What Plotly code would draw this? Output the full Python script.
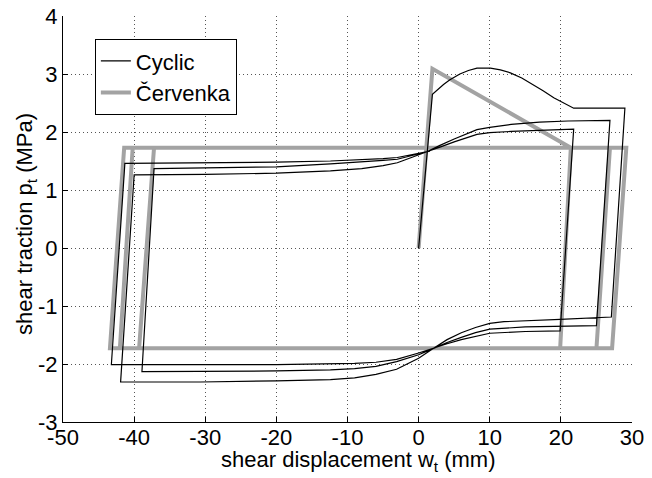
import plotly.graph_objects as go

# ---- data ----
cyclic_x = [0, 1.94,
            3.5, 4.4, 5.8, 7.0, 8.2, 10.1, 11.5, 12.9, 14.5, 16.1, 17.5, 19.0, 20.5, 21.8, 29.0,
            27.1,
            19.9, 15, 12, 10, 8, 6, 4, 2.1, 0, -3.1, -6, -9, -12.4, -20, -30.7, -41.9,
            -40.0,
            -30, -20, -12.4, -8, -5, -3, -1, 1.15, 3, 5, 8.2, 10, 13, 17, 21, 26.9,
            25.0,
            19.9, 15, 10, 8, 6, 4, 2.1, 0, -3.1, -6, -9, -12.4, -20, -30.7, -38.9,
            -37.2,
            -30, -20, -12.4, -8, -5, -3, -1, 1.15, 3, 5, 8.2, 10, 13, 17, 21.8,
            19.9,
            15, 10, 8, 6, 4, 2.1, 0, -3.1, -6, -9, -12.4, -20, -30.7, -43.2,
            -41.3,
            -30, -20, -12.4, -8, -5, -3, -1, 1.15, 1.6]
cyclic_y = [0, 2.65,
            2.82, 2.90, 3.00, 3.06, 3.10, 3.10, 3.07, 3.02, 2.93, 2.82, 2.71, 2.59, 2.49, 2.41, 2.41,
            -1.19,
            -1.23, -1.25, -1.27, -1.30, -1.37, -1.46, -1.58, -1.73, -1.90, -2.09, -2.18, -2.24, -2.27, -2.29, -2.31, -2.31,
            1.26,
            1.27, 1.29, 1.33, 1.37, 1.42, 1.47, 1.56, 1.66, 1.77, 1.88, 2.04, 2.08, 2.13, 2.17, 2.19, 2.20,
            -1.34,
            -1.35, -1.36, -1.40, -1.46, -1.54, -1.63, -1.73, -1.84, -1.96, -2.04, -2.08, -2.10, -2.12, -2.13, -2.13,
            1.37,
            1.38, 1.40, 1.45, 1.48, 1.51, 1.53, 1.59, 1.66, 1.74, 1.83, 1.96, 1.99, 2.01, 2.03, 2.05,
            -1.43,
            -1.44, -1.47, -1.52, -1.58, -1.65, -1.73, -1.81, -1.92, -1.97, -1.99, -2.00, -2.01, -2.01, -2.01,
            1.46,
            1.47, 1.48, 1.50, 1.52, 1.54, 1.56, 1.61, 1.66, 1.67]

cervenka_x = [0, 1.94, 21.4, 29.2, 27.2, -43.4, -41.4, 26.9, 25.0, -42.0, -40.2,
              21.4, 19.9, -39.3, -37.2, 1.5]
cervenka_y = [0, 3.09, 1.73, 1.73, -1.73, -1.73, 1.73, 1.73, -1.73, -1.73, 1.73,
              1.73, -1.73, -1.73, 1.73, 1.73]

x_ticks = [-50, -40, -30, -20, -10, 0, 10, 20, 30]
x_ticklabels = ["-50", "-40", "-30", "-20", "-10", "0", "10", "20", "30"]
y_ticks = [-3, -2, -1, 0, 1, 2, 3, 4]
y_ticklabels = ["-3", "-2", "-1", "0", "1", "2", "3", "4"]

x_title = "shear displacement w<sub>t</sub> (mm)"
y_title = "shear traction p<sub>t</sub> (MPa)"

FONT = "Liberation Sans, Arial, Helvetica, sans-serif"

fig = go.Figure()
fig.add_trace(go.Scatter(x=cervenka_x, y=cervenka_y, mode="lines", name="Červenka",
                         line=dict(color="#a3a3a3", width=4), legendrank=2))
fig.add_trace(go.Scatter(x=cyclic_x, y=cyclic_y, mode="lines", name="Cyclic",
                         line=dict(color="black", width=1.2), legendrank=1))

axis_common = dict(showline=True, linecolor="black", linewidth=1, mirror=False,
                   ticks="inside", ticklen=5, tickcolor="black", tickwidth=1,
                   showgrid=True, gridcolor="#555555", griddash="1px,3px", gridwidth=1,
                   zeroline=False, automargin=False, ticklabeloverflow="allow",
                   tickfont=dict(family=FONT, size=22, color="black"))

fig.update_xaxes(range=[-50, 30], tickvals=x_ticks, ticktext=x_ticklabels,
                 ticklabelstandoff=-4, **axis_common)
fig.update_yaxes(range=[-3, 4], tickvals=y_ticks, ticktext=y_ticklabels, **axis_common)

# the page adds an 8px body margin, so the figure is 8px smaller and shifted
fig.update_layout(
    width=644, height=470,
    margin=dict(l=55, r=20, t=8, b=56),
    paper_bgcolor="white", plot_bgcolor="white",
    font=dict(family=FONT, size=22, color="black"),
    legend=dict(x=0.056, y=0.943, xanchor="left", yanchor="top",
                bgcolor="white", bordercolor="black", borderwidth=1,
                font=dict(family=FONT, size=22, color="black"),
                itemwidth=30),
    showlegend=True,
    annotations=[
        dict(text=x_title, xref="paper", yref="paper", x=0.518, y=-0.095,
             xanchor="center", yanchor="middle", showarrow=False,
             font=dict(family=FONT, size=22, color="black")),
        dict(text=y_title, xref="paper", yref="paper", x=-0.065, y=0.488,
             xanchor="center", yanchor="middle", showarrow=False, textangle=-90,
             font=dict(family=FONT, size=22, color="black")),
    ],
)

fig.write_html("out.html")
